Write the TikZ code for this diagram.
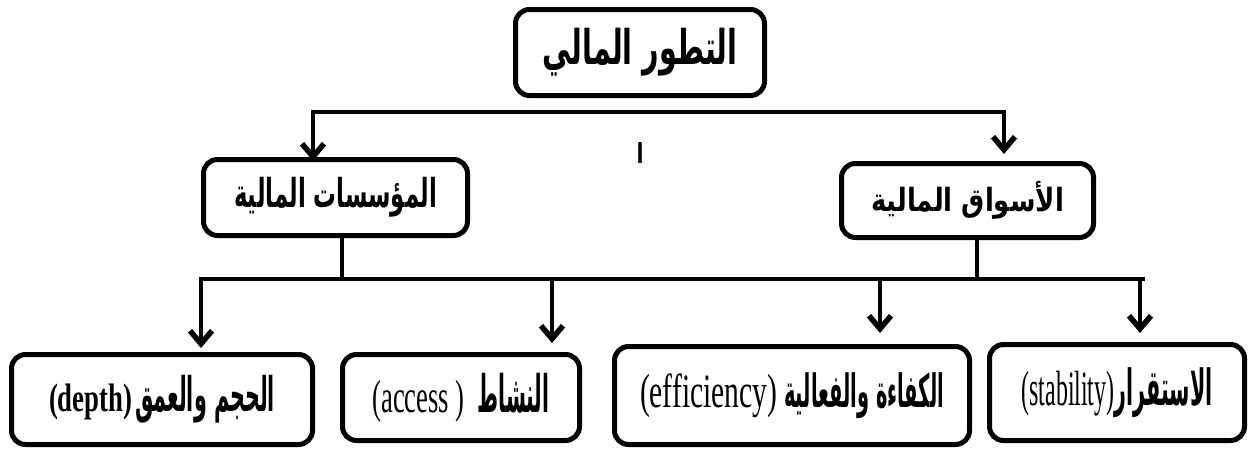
\documentclass[tikz,border=0pt]{standalone}
\usepackage{graphicx}
\usepackage{fontspec}
\setmainfont{Liberation Serif}
\newfontfamily\arabicfont[Script=Arabic]{DejaVu Sans}
\TeXXeTstate=1
\usetikzlibrary{arrows.meta}
\newcommand\fitto[3]{\resizebox*{#1pt}{#2pt}{#3}}
\newcommand\ar[1]{{\arabicfont\bfseries\beginR #1\endR}}
\begin{document}
\begin{tikzpicture}[x=1pt,y=-1pt,
  box/.style={draw,line width=5pt,rounded corners=14pt,inner sep=0pt,align=center,font=\fontsize{20}{24}\selectfont},
  conn/.style={line width=4.5pt},
  arr/.style={conn,-{Straight Barb[length=13pt,width=22pt,line width=5.5pt]}}]
\useasboundingbox (0,0) rectangle (1249,450);
% boxes
\node[box,minimum width=249pt,minimum height=86pt] (top) at (640,52.5)
  {\fitto{195}{48}{\ar{التطور المالي}}};
\node[box,minimum width=264pt,minimum height=76pt] (inst) at (335.5,197.5)
  {\fitto{203}{40}{\ar{المؤسسات المالية}}};
\node[box,minimum width=252pt,minimum height=74pt] (mark) at (967.5,200.5)
  {\fitto{193}{38}{\ar{الأسواق المالية}}};
\node[box,minimum width=301pt,minimum height=90pt] (depth) at (162,399.5)
  {\fitto{83}{36}{\bfseries (depth)}\hspace{3pt}\fitto{140}{48}{\ar{الحجم والعمق}}};
\node[box,minimum width=237pt,minimum height=86pt] (access) at (461,397.5)
  {\fitto{92}{42}{(access )}\hspace{13pt}\fitto{72}{40}{\ar{النشاط}}};
\node[box,minimum width=355pt,minimum height=98pt] (eff) at (792,395.5)
  {\fitto{137}{44}{(efficiency)}\hspace{7pt}\fitto{160}{46}{\ar{الكفاءة والفعالية}}};
\node[box,minimum width=255pt,minimum height=96pt] (stab) at (1117,392.5)
  {\fitto{93}{45}{(stability)}\fitto{98}{50}{\ar{الاستقرار}}};
% stray mark
\node[inner sep=0pt] (alif) at (640,152.5) {\fitto{7}{21}{\ar{ا}}};
% top level connectors
\coordinate (tl) at (313,112);
\coordinate (tr) at (1004,112);
\draw[conn] ([xshift=-2.25pt]tl) -- ([xshift=2.25pt]tr);
\draw[arr] (tl) -- ([yshift=-4pt]tl |- inst.north);
\draw[arr] (tr) -- ([yshift=7pt]tr |- mark.north);
% second level
\coordinate (hl) at (201,279);
\coordinate (hr) at (1143,279);
\draw[conn] (inst.south -| 342,0) -- (342,279);
\draw[conn] (mark.south -| 977,0) -- (977,279);
\draw[conn] ([xshift=-2.25pt]hl) -- ([xshift=2.25pt]hr);
\coordinate (b1) at (201,279);
\coordinate (b2) at (552,279);
\coordinate (b3) at (880,279);
\coordinate (b4) at (1140,279);
\draw[arr] (b1) -- ([yshift=4pt]b1 |- depth.north);
\draw[arr] (b2) -- ([yshift=9pt]b2 |- access.north);
\draw[arr] (b3) -- ([yshift=11pt]b3 |- eff.north);
\draw[arr] (b4) -- ([yshift=9pt]b4 |- stab.north);
\end{tikzpicture}
\end{document}
